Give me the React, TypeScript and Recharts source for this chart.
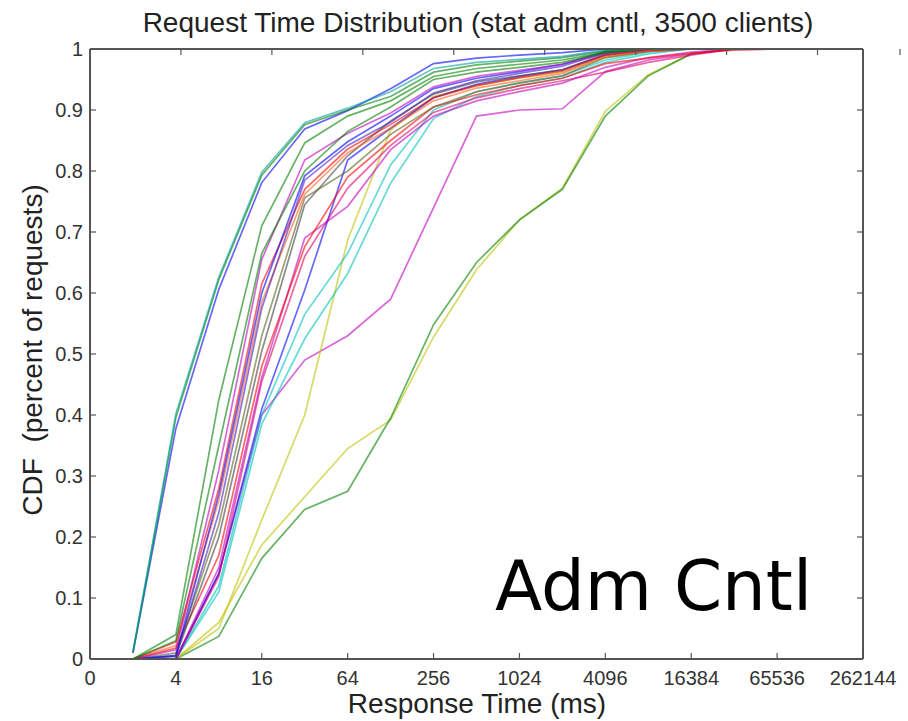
import React from "react";
import { LineChart, Line, XAxis, YAxis } from "recharts";

// x positions are log2(ms): 1 -> 2ms ... 18 -> 262144ms
const LOG2_MS = [1, 2, 3, 4, 5, 6, 7, 8, 9, 10, 11, 12, 13, 14, 15, 16, 17, 18];
const X_TICKS = [0, 2, 4, 6, 8, 10, 12, 14, 16, 18];
const Y_TICKS = [0, 0.1, 0.2, 0.3, 0.4, 0.5, 0.6, 0.7, 0.8, 0.9, 1];

// per-client CDF of response times
const tealA = [0.012, 0.402, 0.626, 0.798, 0.879, 0.903, 0.93, 0.968, 0.978, 0.983, 0.988, 0.998, 1, 1, 1, 1, 1, 1];
const tealB = [0.01, 0.396, 0.622, 0.793, 0.876, 0.9, 0.922, 0.962, 0.974, 0.98, 0.986, 0.997, 1, 1, 1, 1, 1, 1];
const blueFast = [0.01, 0.378, 0.606, 0.781, 0.869, 0.899, 0.935, 0.976, 0.985, 0.99, 0.994, 1, 1, 1, 1, 1, 1, 1];
const greenMid = [0, 0.04, 0.425, 0.71, 0.846, 0.89, 0.915, 0.955, 0.968, 0.975, 0.982, 0.995, 1, 1, 1, 1, 1, 1];
const greenMid2 = [0, 0.03, 0.35, 0.665, 0.8, 0.865, 0.905, 0.95, 0.962, 0.97, 0.978, 0.994, 1, 1, 1, 1, 1, 1];
const magentaA = [0, 0.015, 0.31, 0.655, 0.818, 0.862, 0.895, 0.938, 0.955, 0.965, 0.975, 0.993, 1, 1, 1, 1, 1, 1];
const blueB = [0, 0.006, 0.27, 0.6, 0.792, 0.848, 0.89, 0.935, 0.952, 0.963, 0.975, 0.996, 1, 1, 1, 1, 1, 1];
const purple = [0, 0.004, 0.24, 0.575, 0.785, 0.842, 0.88, 0.928, 0.948, 0.96, 0.972, 0.994, 1, 1, 1, 1, 1, 1];
const redA = [0, 0.028, 0.28, 0.615, 0.77, 0.836, 0.876, 0.92, 0.94, 0.953, 0.964, 0.99, 0.998, 1, 1, 1, 1, 1];
const orange = [0, 0.022, 0.26, 0.585, 0.762, 0.83, 0.87, 0.915, 0.936, 0.948, 0.96, 0.988, 0.997, 1, 1, 1, 1, 1];
const olive = [0, 0.01, 0.22, 0.53, 0.756, 0.8, 0.86, 0.905, 0.93, 0.944, 0.956, 0.986, 0.996, 1, 1, 1, 1, 1];
const grayB = [0, 0.005, 0.2, 0.505, 0.745, 0.825, 0.882, 0.926, 0.946, 0.956, 0.966, 0.992, 1, 1, 1, 1, 1, 1];
const redB = [0, 0.018, 0.17, 0.48, 0.676, 0.79, 0.85, 0.905, 0.925, 0.94, 0.952, 0.976, 0.985, 0.993, 0.998, 1, 1, 1];
const magentaB = [0, 0, 0.15, 0.462, 0.69, 0.742, 0.835, 0.89, 0.915, 0.93, 0.944, 0.97, 0.986, 0.995, 1, 1, 1, 1];
const blueSlow = [0, 0, 0.14, 0.41, 0.605, 0.818, 0.87, 0.92, 0.942, 0.955, 0.966, 0.99, 0.998, 1, 1, 1, 1, 1];
const hotPink = [0, 0, 0.135, 0.455, 0.66, 0.772, 0.842, 0.896, 0.92, 0.935, 0.948, 0.962, 0.978, 0.99, 1, 1, 1, 1];
const cyanB = [0, 0, 0.12, 0.4, 0.565, 0.665, 0.81, 0.9, 0.93, 0.945, 0.956, 0.982, 0.995, 1, 1, 1, 1, 1];
const cyanC = [0, 0, 0.11, 0.385, 0.525, 0.632, 0.78, 0.886, 0.922, 0.94, 0.952, 0.978, 0.992, 1, 1, 1, 1, 1];
const yellowMid = [0, 0, 0.05, 0.228, 0.4, 0.687, 0.867, 0.922, 0.94, 0.952, 0.962, 0.986, 0.996, 1, 1, 1, 1, 1];
const magentaSlow = [0, 0, 0.14, 0.4, 0.49, 0.53, 0.59, 0.74, 0.89, 0.9, 0.902, 0.963, 0.982, 0.992, 1, 1, 1, 1];
const yellowSlow = [0, 0, 0.06, 0.187, 0.266, 0.345, 0.392, 0.528, 0.638, 0.72, 0.772, 0.898, 0.958, 0.992, 1, 1, 1, 1];
const greenSlow = [0, 0, 0.037, 0.165, 0.245, 0.275, 0.395, 0.548, 0.65, 0.72, 0.77, 0.89, 0.956, 0.992, 1, 1, 1, 1];

const SERIES = [
  { key: "yellowSlow", values: yellowSlow, color: "#bfbf00" },
  { key: "greenSlow", values: greenSlow, color: "#008000" },
  { key: "magentaSlow", values: magentaSlow, color: "#bf00bf" },
  { key: "yellowMid", values: yellowMid, color: "#bfbf00" },
  { key: "cyanC", values: cyanC, color: "#00bfbf" },
  { key: "cyanB", values: cyanB, color: "#00bfbf" },
  { key: "blueSlow", values: blueSlow, color: "#0000ff" },
  { key: "hotPink", values: hotPink, color: "#e0006a" },
  { key: "magentaB", values: magentaB, color: "#bf00bf" },
  { key: "redB", values: redB, color: "#ff0000" },
  { key: "grayB", values: grayB, color: "#404040" },
  { key: "olive", values: olive, color: "#606020" },
  { key: "orange", values: orange, color: "#ff6020" },
  { key: "redA", values: redA, color: "#ff0000" },
  { key: "purple", values: purple, color: "#4020c0" },
  { key: "blueB", values: blueB, color: "#0000ff" },
  { key: "magentaA", values: magentaA, color: "#bf00bf" },
  { key: "greenMid2", values: greenMid2, color: "#008000" },
  { key: "greenMid", values: greenMid, color: "#008000" },
  { key: "blueFast", values: blueFast, color: "#0000ff" },
  { key: "tealB", values: tealB, color: "#008000" },
  { key: "tealA", values: tealA, color: "#00a0a0" },
];

const rows = LOG2_MS.map((x, i) => {
  const row: Record<string, number> = { x };
  SERIES.forEach((s) => {
    row[s.key] = s.values[i];
  });
  return row;
});

const FONT = "'Liberation Sans', Arial, sans-serif";
const AXIS = "#555";

const fmtX = (v: number) => (v === 0 ? "0" : String(Math.pow(2, v)));
const fmtY = (v: number) => (v === 0 || v === 1 ? String(v) : v.toFixed(1));

// tick marks point into the plot, labels sit outside
const BottomTick = ({ x, y, payload }: any) => (
  <g>
    <line x1={x} x2={x} y1={y} y2={y - 6} stroke={AXIS} strokeWidth={1.2} />
    <text x={x} y={y + 26} textAnchor="middle" fontSize={20} fontFamily={FONT} fill="#333">
      {fmtX(payload.value)}
    </text>
  </g>
);

const TopTick = ({ x, y }: any) => (
  <line x1={x} x2={x} y1={y} y2={y + 6} stroke={AXIS} strokeWidth={1.2} />
);

const LeftTick = ({ x, y, payload }: any) => (
  <g>
    <line x1={x} x2={x + 6} y1={y} y2={y} stroke={AXIS} strokeWidth={1.2} />
    <text x={x - 7} y={y + 7} textAnchor="end" fontSize={20} fontFamily={FONT} fill="#333">
      {fmtY(payload.value)}
    </text>
  </g>
);

const RightTick = ({ x, y }: any) => (
  <line x1={x} x2={x - 6} y1={y} y2={y} stroke={AXIS} strokeWidth={1.2} />
);

export default function App() {
  return (
    <div style={{ position: "absolute", left: 0, top: 0, width: 908, height: 721, background: "#fff" }}>
      <LineChart width={908} height={721} data={rows} margin={{ top: 0, right: 0, bottom: 0, left: 0 }}>
        <XAxis
          dataKey="x"
          type="number"
          domain={[0, 18]}
          ticks={X_TICKS}
          height={62}
          tickSize={0}
          tickMargin={0}
          tickLine={false}
          tick={<BottomTick />}
          axisLine={{ stroke: AXIS, strokeWidth: 2 }}
          allowDataOverflow
        />
        <XAxis
          xAxisId="top"
          orientation="top"
          type="number"
          domain={[0, 18]}
          ticks={X_TICKS}
          height={49}
          tickSize={0}
          tickMargin={0}
          tickLine={false}
          tick={<TopTick />}
          axisLine={{ stroke: AXIS, strokeWidth: 2 }}
          allowDataOverflow
        />
        <YAxis
          type="number"
          domain={[0, 1]}
          ticks={Y_TICKS}
          width={90}
          tickSize={0}
          tickMargin={0}
          tickLine={false}
          tick={<LeftTick />}
          axisLine={{ stroke: AXIS, strokeWidth: 2 }}
          allowDataOverflow
        />
        <YAxis
          yAxisId="right"
          orientation="right"
          type="number"
          domain={[0, 1]}
          ticks={Y_TICKS}
          width={45}
          tickSize={0}
          tickMargin={0}
          tickLine={false}
          tick={<RightTick />}
          axisLine={{ stroke: AXIS, strokeWidth: 2 }}
          allowDataOverflow
        />
        {SERIES.map((s) => (
          <Line
            key={s.key}
            dataKey={s.key}
            type="linear"
            stroke={s.color}
            strokeOpacity={0.6}
            strokeWidth={1.7}
            dot={false}
            isAnimationActive={false}
          />
        ))}
      </LineChart>
      <svg width={908} height={721} style={{ position: "absolute", left: 0, top: 0, pointerEvents: "none" }}>
        <text x={478} y={32} textAnchor="middle" fontSize={28} fontFamily={FONT} fill="#222">
          Request Time Distribution (stat adm cntl, 3500 clients)
        </text>
        <text x={477} y={713} textAnchor="middle" fontSize={28} fontFamily={FONT} fill="#222">
          Response Time (ms)
        </text>
        <text
          transform="translate(42,350) rotate(-90)"
          textAnchor="middle"
          fontSize={28}
          fontFamily={FONT}
          fill="#222"
          style={{ whiteSpace: "pre" }}
        >
          CDF  (percent of requests)
        </text>
        <text x={495} y={610} fontSize={69} fontFamily="'DejaVu Sans', sans-serif" fill="#000">
          Adm Cntl
        </text>
      </svg>
    </div>
  );
}
